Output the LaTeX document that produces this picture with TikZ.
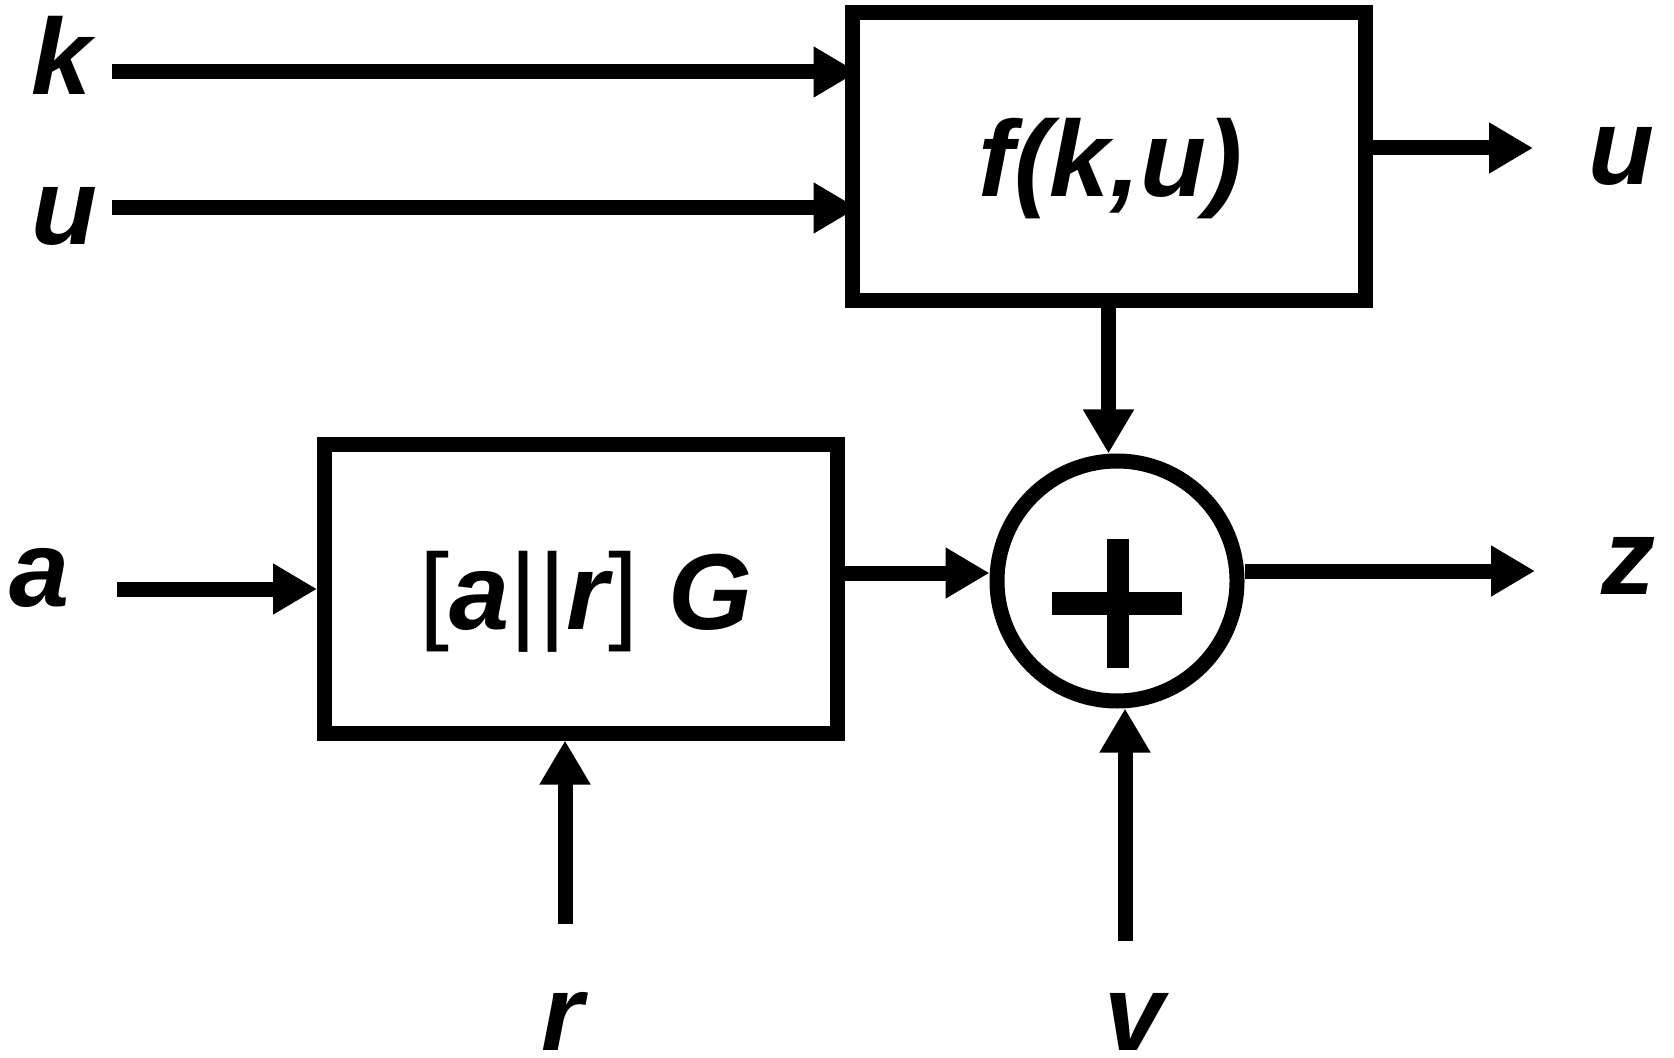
\documentclass[tikz,border=0pt]{standalone}
\usepackage{fontspec}
\setmainfont{Liberation Sans}
\usetikzlibrary{arrows.meta}
\newcommand\upr[1]{{\mdseries\upshape #1}}
\begin{document}
\begin{tikzpicture}[x=0.5pt,y=-0.5pt,
  blk/.style={draw, line width=7.5pt, outer sep=3.75pt, inner sep=0pt, minimum width=256.5pt, minimum height=144pt},
  sumnode/.style={draw, circle, line width=7.5pt, outer sep=3.75pt, inner sep=0pt, minimum size=120pt},
  arr/.style={line width=7.5pt, -{Triangle[length=22pt,width=24pt]}},
  lbl/.style={font=\fontsize{54pt}{60pt}\selectfont\bfseries\itshape, anchor=base, inner sep=0pt},
]
\useasboundingbox (0,0) rectangle (1674,1058);

% blocks
\node[blk] (F) at (1108.5,156.5) {};
\node[blk] (G) at (581,589) {};
\node[sumnode] (S) at (1117,581) {};
\fill (1107,539) rectangle (1129,668);
\fill (1052,592) rectangle (1182,615);

% block texts
\node[lbl] (Ft) at (1110,197) {f(k,u)};
\node[lbl] (Gt) at (586,629) {\upr{[}a\upr{||}r\upr{]} G};

% labels
\node[lbl] (kl) at (62,95) {k};
\node[lbl] (ul) at (64,245) {u};
\node[lbl] (al) at (40,606) {a};
\node[lbl] (uol) at (1621,185) {u};
\node[lbl] (zl) at (1628,594) {z};
\node[lbl] (rl) at (563,1050) {r};
\node[lbl] (vl) at (1135,1050) {v};

% connector ends
\coordinate (kin) at (112,72);
\coordinate (uin) at (112,208);
\coordinate (uo) at (1533,148);
\coordinate (ain) at (117,589);
\coordinate (gy) at (0,573);
\coordinate (rin) at (565,924);
\coordinate (vin) at (1125,941);
\coordinate (zo) at (1535,571);

% connectors
\draw[arr, shorten >=-6.5pt] (kin) -- (kin -| F.west);
\draw[arr, shorten >=-6.5pt] (uin) -- (uin -| F.west);
\draw[arr] (uo -| F.east) -- (uo);
\draw[arr] (F.south) -- (F.south |- S.north);
\draw[arr] (ain) -- (G.west);
\draw[arr] (G.east |- gy) -- (S.west |- gy);
\draw[arr] (rin) -- (rin |- G.south);
\draw[arr] (vin) -- (vin |- S.south);
\draw[arr] (S.east |- zo) -- (zo);
\end{tikzpicture}
\end{document}
